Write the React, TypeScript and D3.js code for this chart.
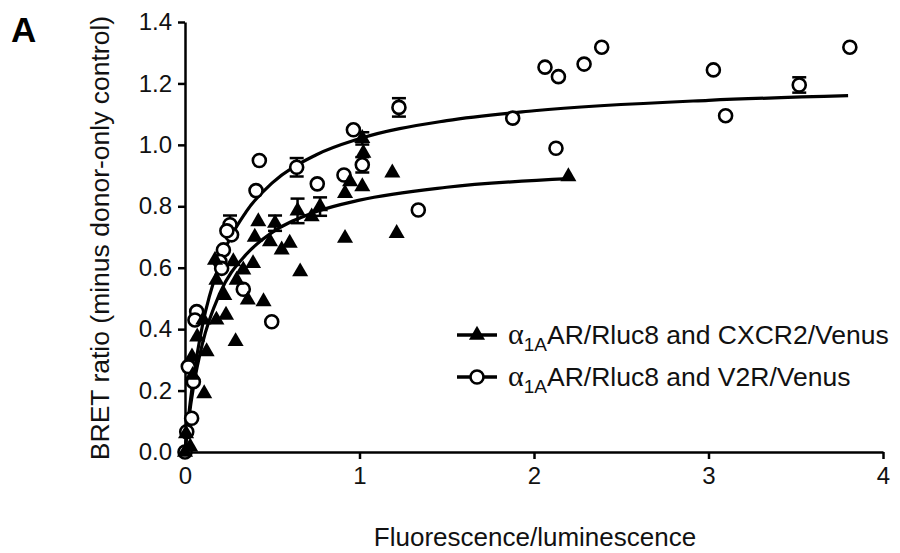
import React, { useEffect, useRef } from 'react';
import * as d3 from 'd3';

// CXCR2/Venus points (filled triangles)
const cxcrX = [1.016, 1.022, 1.188, 1.016, 0.946, 0.917, 0.774, 0.645, 0.516, 0.42, 0.726, 0.4, 0.487, 0.554, 0.6, 0.39, 0.334, 0.277, 0.172, 0.66, 0.296, 0.18, 0.225, 0.36, 0.45, 0.235, 0.18, 0.105, 0.29, 0.07, 0.124, 0.11, 0.04, 0.044, 0.03, 0.006, 0.0, 0.917, 1.213, 2.197];
const cxcrY = [1.021, 0.973, 0.909, 0.864, 0.88, 0.842, 0.799, 0.785, 0.745, 0.75, 0.766, 0.7, 0.685, 0.658, 0.68, 0.614, 0.593, 0.62, 0.625, 0.587, 0.56, 0.56, 0.51, 0.495, 0.49, 0.446, 0.43, 0.43, 0.36, 0.375, 0.327, 0.19, 0.31, 0.25, 0.017, 0.06, 0.0, 0.696, 0.712, 0.897];

// V2R/Venus points (open circles)
const v2rX = [0.426, 0.64, 0.407, 0.965, 1.226, 0.758, 0.911, 1.016, 2.126, 1.337, 1.878, 2.063, 2.14, 2.287, 2.388, 3.028, 3.098, 3.52, 3.81, 0.258, 0.267, 0.24, 0.22, 0.2, 0.21, 0.334, 0.497, 0.067, 0.057, 0.019, 0.048, 0.038, 0.01, 0.0];
const v2rY = [0.949, 0.927, 0.851, 1.049, 1.122, 0.873, 0.902, 0.935, 0.989, 0.788, 1.087, 1.253, 1.222, 1.263, 1.318, 1.244, 1.095, 1.195, 1.318, 0.74, 0.707, 0.72, 0.658, 0.62, 0.598, 0.53, 0.424, 0.457, 0.43, 0.278, 0.229, 0.11, 0.066, 0.0];

// error bars: x, y, half-height
const cxcrErr = [[0.774, 0.799, 0.03], [0.645, 0.785, 0.04], [0.516, 0.745, 0.025], [1.016, 1.021, 0.02]];
const v2rErr = [[0.64, 0.927, 0.03], [1.226, 1.122, 0.03], [1.016, 0.935, 0.025], [3.52, 1.195, 0.025], [0.258, 0.74, 0.03]];

// fitted curves
const cxcrFitX = [0, 0.02, 0.05, 0.1, 0.2, 0.35, 0.5, 0.75, 1.0, 1.5, 2.2];
const cxcrFitY = [0, 0.1, 0.217, 0.353, 0.517, 0.643, 0.715, 0.782, 0.82, 0.862, 0.89];
const v2rFitX = [0, 0.02, 0.05, 0.1, 0.2, 0.35, 0.5, 0.75, 1, 1.5, 2, 3, 3.8];
const v2rFitY = [0, 0.113, 0.248, 0.412, 0.616, 0.782, 0.876, 0.967, 1.02, 1.079, 1.111, 1.145, 1.16];

const xTicks = [0, 1, 2, 3, 4];
const yTicks = [0, 0.2, 0.4, 0.6, 0.8, 1.0, 1.2, 1.4];

const legendLabels = ['CXCR2/Venus', 'V2R/Venus'];

export default function App() {
  const svgRef = useRef(null);

  useEffect(() => {
    const width = 900;
    const height = 553;
    const font = 'Liberation Sans, Arial, sans-serif';

    const svg = d3.select(svgRef.current);
    svg.selectAll('*').remove();
    svg.attr('width', width).attr('height', height);

    const x = d3.scaleLinear().domain([0, 4]).range([185, 883]);
    const y = d3.scaleLinear().domain([0, 1.4]).range([452, 22]);

    // axes
    const xAxis = svg
      .append('g')
      .attr('transform', `translate(0,${y(0)})`)
      .call(d3.axisBottom(x).tickValues(xTicks).tickSize(7).tickSizeOuter(0).tickPadding(8).tickFormat(d3.format('d')));
    const yAxis = svg
      .append('g')
      .attr('transform', `translate(${x(0)},0)`)
      .call(d3.axisLeft(y).tickValues(yTicks).tickSize(7).tickSizeOuter(0).tickPadding(6).tickFormat(d3.format('.1f')));
    [xAxis, yAxis].forEach((g) => {
      g.select('.domain').attr('stroke', '#000').attr('stroke-width', 2.5);
      g.selectAll('.tick line').attr('stroke', '#000').attr('stroke-width', 2.5);
      g.selectAll('.tick text').attr('fill', '#111').attr('font-family', font).attr('font-size', 24);
    });

    // fit curves
    const line = d3
      .line()
      .x((d) => x(d[0]))
      .y((d) => y(d[1]))
      .curve(d3.curveMonotoneX);
    svg
      .append('path')
      .attr('d', line(cxcrFitX.map((v, i) => [v, cxcrFitY[i]])))
      .attr('fill', 'none')
      .attr('stroke', '#000')
      .attr('stroke-width', 3.2);
    svg
      .append('path')
      .attr('d', line(v2rFitX.map((v, i) => [v, v2rFitY[i]])))
      .attr('fill', 'none')
      .attr('stroke', '#000')
      .attr('stroke-width', 3.2);

    // error bars
    const errG = svg.append('g').attr('stroke', '#000').attr('stroke-width', 2.5);
    [...cxcrErr, ...v2rErr].forEach(([ex, ey, h]) => {
      errG.append('line').attr('x1', x(ex)).attr('x2', x(ex)).attr('y1', y(ey - h)).attr('y2', y(ey + h));
      errG.append('line').attr('x1', x(ex) - 7).attr('x2', x(ex) + 7).attr('y1', y(ey + h)).attr('y2', y(ey + h));
      errG.append('line').attr('x1', x(ex) - 7).attr('x2', x(ex) + 7).attr('y1', y(ey - h)).attr('y2', y(ey - h));
    });

    const tri = d3.symbol(d3.symbolTriangle, 112);

    // V2R circles
    svg
      .append('g')
      .selectAll('circle')
      .data(v2rX.map((v, i) => [v, v2rY[i]]))
      .join('circle')
      .attr('cx', (d) => x(d[0]))
      .attr('cy', (d) => y(d[1]))
      .attr('r', 6.5)
      .attr('fill', '#fff')
      .attr('stroke', '#000')
      .attr('stroke-width', 2.6);

    // CXCR2 triangles
    svg
      .append('g')
      .selectAll('path')
      .data(cxcrX.map((v, i) => [v, cxcrY[i]]))
      .join('path')
      .attr('d', tri)
      .attr('transform', (d) => `translate(${x(d[0])},${y(d[1])})`)
      .attr('fill', '#000');

    // legend
    const leg = svg.append('g').attr('font-family', font).attr('font-size', 26.5).attr('fill', '#111');
    legendLabels.forEach((lab, i) => {
      const ly = 335 + i * 42;
      leg.append('line').attr('x1', 457).attr('x2', 497).attr('y1', ly).attr('y2', ly).attr('stroke', '#000').attr('stroke-width', 3.5);
      if (i === 0) {
        leg.append('path').attr('d', tri).attr('transform', `translate(477,${ly})`).attr('fill', '#000');
      } else {
        leg.append('circle').attr('cx', 477).attr('cy', ly).attr('r', 6.5).attr('fill', '#fff').attr('stroke', '#000').attr('stroke-width', 2.6);
      }
      const t = leg.append('text').attr('x', 508).attr('y', ly + 9);
      t.append('tspan').attr('font-family', 'Liberation Serif, serif').attr('font-size', 30).text('α');
      t.append('tspan').attr('font-size', 19).attr('dy', 7).text('1A');
      t.append('tspan').attr('dy', -7).text(`AR/Rluc8 and ${lab}`);
    });

    // axis titles
    svg
      .append('text')
      .attr('transform', 'translate(109,238) rotate(-90)')
      .attr('text-anchor', 'middle')
      .attr('font-family', font)
      .attr('font-size', 26.5)
      .attr('fill', '#111')
      .text('BRET ratio (minus donor-only control)');
    svg
      .append('text')
      .attr('x', 535)
      .attr('y', 546)
      .attr('text-anchor', 'middle')
      .attr('font-family', font)
      .attr('font-size', 26)
      .attr('fill', '#111')
      .text('Fluorescence/luminescence');

    // panel letter
    svg
      .append('text')
      .attr('x', 11)
      .attr('y', 42)
      .attr('font-family', font)
      .attr('font-weight', 'bold')
      .attr('font-size', 35)
      .attr('fill', '#000')
      .text('A');
  }, []);

  return (
    <div style={{ position: 'absolute', left: 0, top: 0 }}>
      <svg ref={svgRef}></svg>
    </div>
  );
}
